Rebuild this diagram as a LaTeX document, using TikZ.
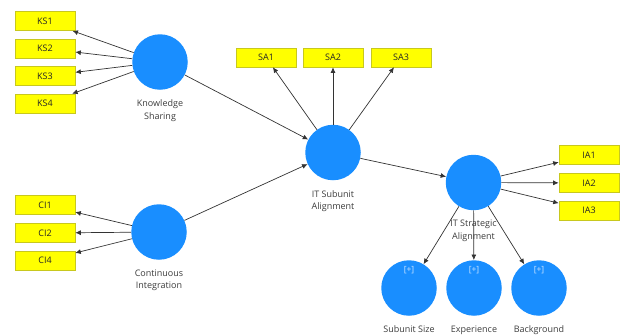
\documentclass[tikz,border=0pt]{standalone}
\usepackage{fontspec}
\setmainfont{Open Sans}
\usetikzlibrary{arrows.meta}
\definecolor{lv}{RGB}{25,142,255}
\definecolor{indy}{RGB}{255,255,0}
\definecolor{indb}{RGB}{200,200,30}
\definecolor{labc}{RGB}{60,60,60}
\definecolor{plusc}{RGB}{205,230,255}
\begin{document}
\begin{tikzpicture}[x=1pt,y=-1pt,
 ind/.style={draw=indb, fill=indy, line width=0.6pt, minimum width=60pt, minimum height=19pt, inner sep=0pt, font=\fontsize{9}{10}\selectfont, text=black!85},
 lat/.style={circle, fill=lv, minimum size=55.5pt, inner sep=0pt},
 lab/.style={font=\fontsize{9}{12.5}\selectfont, text=labc, align=center, anchor=north, inner sep=0pt},
 plus/.style={font=\fontsize{8.5}{10}\selectfont, text=plusc, inner sep=0pt},
 arr/.style={-{Latex[length=5.5pt,width=5pt]}, draw=black!80, line width=0.7pt}]
\useasboundingbox (0,0) rectangle (624,335);
% latent variables
\node[lat] (KS) at (160,62) {};
\node[lat] (CI) at (159,232) {};
\node[lat] (SUB) at (333,152.5) {};
\node[lat] (STR) at (473.5,182.5) {};
\node[lat] (SS) at (409,288) {};
\node[lat] (EX) at (474,288) {};
\node[lat] (BG) at (539,288) {};
% labels
\node[lab] (KSl) at (160,99.5) {Knowledge\\Sharing};
\node[lab] (CIl) at (159,269.5) {Continuous\\Integration};
\node[lab] (SUBl) at (333,190) {IT Subunit\\Alignment};
\node[lab] (STRl) at (473.5,220) {IT Strategic\\Alignment};
\node[lab] (SSl) at (409,325.5) {Subunit Size};
\node[lab] (EXl) at (474,325.5) {Experience};
\node[lab] (BGl) at (539,325.5) {Background};
\node[plus] (SSp) at (409,270) {[+]};
\node[plus] (EXp) at (474,270) {[+]};
\node[plus] (BGp) at (539,270) {[+]};
% indicators
\node[ind] (KS1) at (45,21) {KS1};
\node[ind] (KS2) at (45,48.5) {KS2};
\node[ind] (KS3) at (45,76) {KS3};
\node[ind] (KS4) at (45,103.5) {KS4};
\node[ind] (CI1) at (45,205) {CI1};
\node[ind] (CI2) at (45,233) {CI2};
\node[ind] (CI4) at (45,260.5) {CI4};
\node[ind] (SA1) at (266,57.5) {SA1};
\node[ind] (SA2) at (333,57.5) {SA2};
\node[ind] (SA3) at (401,57.5) {SA3};
\node[ind] (IA1) at (589,155) {IA1};
\node[ind] (IA2) at (589,183) {IA2};
\node[ind] (IA3) at (589,210.5) {IA3};
% connectors
\foreach \t in {KS1,KS2,KS3,KS4} \draw[arr] (KS) -- (\t);
\foreach \t in {CI1,CI2,CI4} \draw[arr] (CI) -- (\t);
\foreach \t in {SA1,SA2,SA3} \draw[arr] (SUB) -- (\t);
\foreach \t in {IA1,IA2,IA3} \draw[arr] (STR) -- (\t);
\draw[arr] (KS) -- (SUB);
\draw[arr] (CI) -- (SUB);
\draw[arr] (SUB) -- (STR);
\draw[arr] (STR) -- (SS);
\draw[arr] (STR) -- (EX);
\draw[arr] (STR) -- (BG);
\end{tikzpicture}
\end{document}
